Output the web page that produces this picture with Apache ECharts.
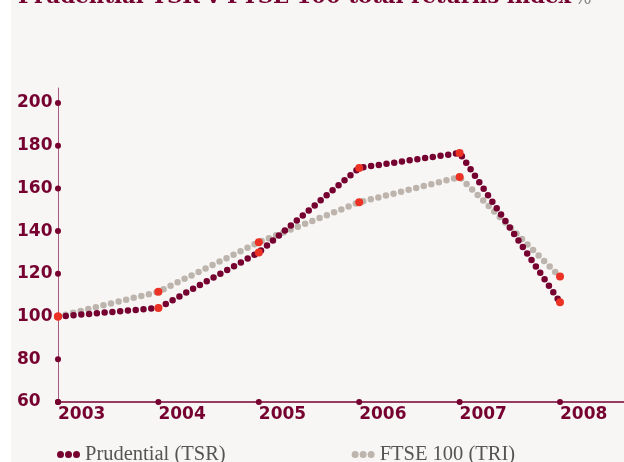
<!DOCTYPE html>
<html>
<head>
<meta charset="utf-8">
<script src="https://cdn.jsdelivr.net/npm/echarts@6/dist/echarts.min.js"></script>
<style>
html,body{margin:0;padding:0;background:#fff;}
#c{width:624px;height:462px;background:linear-gradient(to right,#ffffff 11px,#f7f6f4 11px);}
</style>
</head>
<body>
<div id="c"></div>
<script>
// ---- data ----
const years = [2003, 2004, 2005, 2006, 2007, 2008];
const prudential = [100, 104, 130, 169.6, 176.6, 106.7];
const ftse = [100, 111.6, 134.8, 153.5, 165.3, 118.7];
const yTicks = [60, 80, 100, 120, 140, 160, 180, 200];
const seriesNames = ['Prudential (TSR)', 'FTSE 100 (TRI)'];
const titleText = 'Prudential TSR v FTSE 100 total returns index';
const titleUnit = '%';

const DARK = '#76002f';
const GREY = '#bdb5ad';
const RED = '#ec3224';

const pairs = (xs, ys) => xs.map((x, i) => [x, ys[i]]);
const yTickDots = yTicks.map(v => [years[0], v]);
const xTickDots = years.map(y => [y, yTicks[0]]);

const chart = echarts.init(document.getElementById('c'), null, {renderer: 'canvas'});
const dotIcon = 'path://M0,3.5a3.5,3.5 0 1,0 7,0a3.5,3.5 0 1,0 -7,0M8,3.5a3.5,3.5 0 1,0 7,0a3.5,3.5 0 1,0 -7,0M16,3.5a3.5,3.5 0 1,0 7,0a3.5,3.5 0 1,0 -7,0';

chart.setOption({
  backgroundColor: 'transparent',
  animation: false,
  graphic: [{
    type: 'text',
    x: 18,
    y: 8,
    silent: true,
    style: {
      text: '{b|' + titleText + '} {p|' + titleUnit + '}',
      verticalAlign: 'bottom',
      rich: {
        b: {fontFamily: 'DejaVu Serif', fontWeight: 'bold', fontSize: 21.2, fill: DARK, verticalAlign: 'bottom'},
        p: {fontFamily: 'DejaVu Serif', fontSize: 18, fill: '#888', verticalAlign: 'bottom'}
      }
    }
  }],
  grid: {left: 58, right: 0, top: 88, bottom: 60},
  legend: {
    data: seriesNames,
    left: 57,
    top: 444,
    padding: 0,
    icon: dotIcon,
    itemWidth: 23,
    itemHeight: 7,
    itemGap: 126,
    selectedMode: false,
    textStyle: {fontFamily: 'Liberation Serif', fontSize: 20.5, color: '#555'}
  },
  xAxis: {
    type: 'value',
    min: years[0],
    max: years[0] + 566 / 100.4,
    interval: 1,
    axisLine: {lineStyle: {color: DARK, width: 1.5}},
    axisTick: {show: false},
    splitLine: {show: false},
    axisLabel: {
      margin: 4,
      align: 'left',
      color: DARK,
      fontFamily: 'DejaVu Sans',
      fontWeight: 'bold',
      fontSize: 17,
      showMaxLabel: false,
      formatter: v => (years.indexOf(v) >= 0 ? String(v) : '')
    }
  },
  yAxis: {
    type: 'value',
    min: 60,
    max: 207,
    interval: 20,
    axisLine: {show: true, lineStyle: {color: '#a35a80', width: 1}},
    axisTick: {show: false},
    splitLine: {show: false},
    axisLabel: {
      margin: 41,
      align: 'left',
      color: DARK,
      fontFamily: 'DejaVu Sans',
      fontWeight: 'bold',
      fontSize: 17,
      showMaxLabel: false,
      formatter: v => (yTicks.indexOf(v) >= 0 ? String(v) : '')
    }
  },
  series: [
    {
      type: 'scatter', silent: true, symbol: 'circle', symbolSize: 6, z: 3,
      itemStyle: {color: DARK, opacity: 1},
      data: yTickDots.concat(xTickDots)
    },
    {
      name: seriesNames[1], type: 'line', showSymbol: false, silent: true, z: 3,
      itemStyle: {color: GREY},
      lineStyle: {color: GREY, width: 6.5, type: [0, 7.8], cap: 'round'},
      data: pairs(years, ftse)
    },
    {
      name: seriesNames[0], type: 'line', showSymbol: false, silent: true, z: 4,
      itemStyle: {color: DARK},
      lineStyle: {color: DARK, width: 6.5, type: [0, 7.8], cap: 'round'},
      data: pairs(years, prudential)
    },
    {
      type: 'scatter', silent: true, symbol: 'circle', symbolSize: 8, z: 10,
      itemStyle: {color: RED, opacity: 1},
      data: pairs(years, ftse).concat(pairs(years, prudential))
    }
  ]
});
</script>
</body>
</html>
